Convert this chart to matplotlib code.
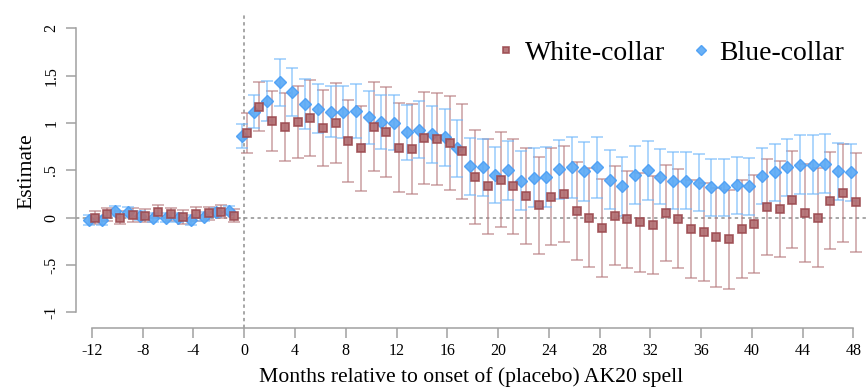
import numpy as np
import matplotlib
matplotlib.use("Agg")
import matplotlib.pyplot as plt

plt.rcParams['font.family'] = ['Liberation Serif', 'DejaVu Serif']

months = list(range(-12, 49))

white_est = [0.0, 0.035, 0.0, 0.028, 0.02, 0.063, 0.035, 0.007, 0.039, 0.046, 0.063, 0.02,
             0.89, 1.17, 1.02, 0.96, 1.01, 1.05, 0.95, 1.00, 0.81, 0.73, 0.96, 0.90, 0.74,
             0.72, 0.84, 0.83, 0.79, 0.70, 0.43, 0.33, 0.40, 0.33, 0.23, 0.13, 0.22, 0.25,
             0.07, 0.0, -0.11, 0.02, -0.02, -0.05, -0.08, 0.05, -0.01, -0.12, -0.15, -0.21,
             -0.23, -0.12, -0.07, 0.11, 0.09, 0.19, 0.05, 0.0, 0.18, 0.26, 0.16]
white_ci = [0.07] * 12 + [0.21, 0.26, 0.32, 0.36, 0.38, 0.40, 0.40, 0.42, 0.43, 0.445, 0.47,
             0.475, 0.47, 0.475, 0.49, 0.49, 0.495, 0.50, 0.50, 0.50, 0.50, 0.50, 0.51,
             0.51, 0.51, 0.51, 0.52, 0.52, 0.52, 0.52, 0.51, 0.52, 0.52, 0.51, 0.52, 0.52,
             0.52, 0.52, 0.52, 0.52, 0.52, 0.51, 0.51, 0.51, 0.52, 0.52, 0.51, 0.52, 0.52]

blue_est = [-0.025, -0.03, 0.07, 0.063, 0.02, 0.0, 0.0, 0.0, -0.025, 0.01, 0.056, 0.074,
            0.86, 1.12, 1.23, 1.43, 1.33, 1.20, 1.15, 1.12, 1.12, 1.13, 1.06, 1.01, 1.00,
            0.90, 0.93, 0.88, 0.85, 0.73, 0.54, 0.53, 0.45, 0.50, 0.39, 0.42, 0.43, 0.51,
            0.53, 0.49, 0.53, 0.40, 0.33, 0.45, 0.50, 0.43, 0.39, 0.39, 0.37, 0.32, 0.32,
            0.34, 0.33, 0.44, 0.48, 0.53, 0.56, 0.56, 0.57, 0.49, 0.48]
blue_ci = [0.05] * 12 + [0.13, 0.17, 0.21, 0.25, 0.255, 0.26, 0.26, 0.27, 0.275, 0.285, 0.28,
            0.29, 0.29, 0.29, 0.30, 0.30, 0.30, 0.30, 0.30, 0.30, 0.30, 0.31, 0.31, 0.31,
            0.32, 0.31, 0.32, 0.31, 0.32, 0.31, 0.31, 0.31, 0.31, 0.29, 0.30, 0.30, 0.30,
            0.30, 0.30, 0.30, 0.30, 0.30, 0.30, 0.30, 0.31, 0.31, 0.31, 0.30, 0.30]

xticks = list(range(-12, 49, 4))
yticks = [-1, -0.5, 0, 0.5, 1, 1.5, 2]
ytick_labels = ['-1', '-.5', '0', '.5', '1', '1.5', '2']

fig = plt.figure(figsize=(8.66, 3.87), dpi=100)
ax = fig.add_axes([76/866, 1 - 327.7/387, 1 - 76/866, (327.7 - 15)/387])

m = np.array(months, dtype=float)
ax.axhline(0, color='#909090', lw=1.1, ls=(0, (2.2, 2.2)), zorder=1)
ax.axvline(0, color='#909090', lw=1.1, ls=(0, (2.2, 2.2)), zorder=1)

ax.errorbar(m + 0.2, white_est, yerr=white_ci, fmt='none', ecolor='#b5777b',
            elinewidth=1.3, capsize=4, capthick=1.3, alpha=0.6, zorder=2)
ax.errorbar(m - 0.2, blue_est, yerr=blue_ci, fmt='none', ecolor='#6fb6fb',
            elinewidth=1.3, capsize=4, capthick=1.3, alpha=0.6, zorder=2)

ax.plot(m - 0.2, blue_est, ls='none', marker='D', ms=6.2, mfc='#5aa9f5',
        mec='#4a9ef5', mew=1.0, alpha=0.9, zorder=3, label='Blue-collar')
ax.plot(m + 0.2, white_est, ls='none', marker='s', ms=6.2, mfc='#b06a6e',
        mec='#9c4a50', mew=1.2, alpha=0.9, zorder=4, label='White-collar')

ax.set_xlim(-13.26, 49.0)
ax.set_ylim(-1.163, 2.14)

for s in ['top', 'right']:
    ax.spines[s].set_visible(False)
for s in ['left', 'bottom']:
    ax.spines[s].set_color('#a0a0a0')
    ax.spines[s].set_linewidth(1.1)
ax.spines['left'].set_bounds(-1, 2)
ax.spines['bottom'].set_bounds(-12, 48)

ax.set_xticks(xticks)
ax.set_xticklabels([str(t) for t in xticks], fontsize=11.5)
ax.set_yticks(yticks)
ax.set_yticklabels(ytick_labels, fontsize=11.5, rotation=90, va='center')
ax.tick_params(axis='both', color='#a0a0a0', width=1.1, length=7)
ax.tick_params(axis='y', pad=5)
ax.tick_params(axis='x', pad=4)

ax.set_xlabel('Months relative to onset of (placebo) AK20 spell', fontsize=15.6, labelpad=6)
ax.set_ylabel('Estimate', fontsize=15.6, labelpad=5)

h, l = ax.get_legend_handles_labels()
leg = ax.legend(h[::-1], l[::-1], loc='upper right', bbox_to_anchor=(1.0, 0.99), ncol=2,
                frameon=False, fontsize=20, markerscale=0.75, handlelength=0.6,
                handletextpad=0.35, columnspacing=1.0, borderaxespad=0.4)

fig.savefig('out.png', dpi=100)
